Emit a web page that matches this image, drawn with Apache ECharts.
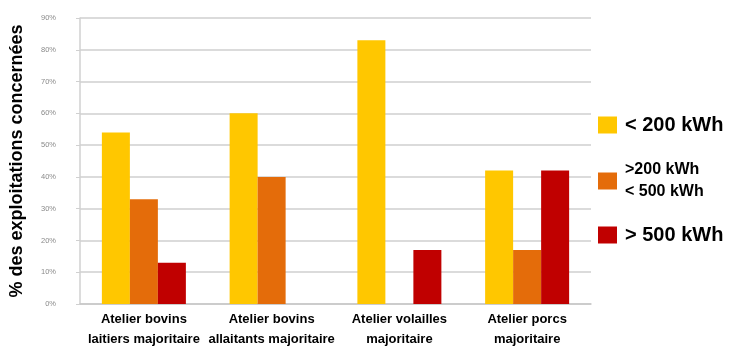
<!DOCTYPE html>
<html>
<head>
<meta charset="utf-8">
<script src="https://cdn.jsdelivr.net/npm/echarts@6/dist/echarts.min.js"></script>
<style>
  html, body { margin: 0; padding: 0; background: #fff; }
  #chart { width: 731px; height: 349px; }
</style>
</head>
<body>
<div id="chart"></div>
<script>
// catégories (ateliers)
var categories = [
  'Atelier bovins\nlaitiers majoritaire',
  'Atelier bovins\nallaitants majoritaire',
  'Atelier volailles\nmajoritaire',
  'Atelier porcs\nmajoritaire'
];
// % des exploitations par tranche de consommation
var lt200 = [54, 60, 83, 42];
var mid200500 = [33, 40, null, 17];
var gt500 = [13, null, 17, 42];

var seriesNames = ['< 200 kWh', '>200 kWh\n< 500 kWh', '> 500 kWh'];
var colors = ['#FFC700', '#E46C0A', '#C00000'];

var chart = echarts.init(document.getElementById('chart'));

function makeLegend(name, top, size, lh) {
  return {
    orient: 'vertical',
    left: 593,
    top: top,
    data: [name],
    itemWidth: 19,
    itemHeight: 17,
    itemGap: 0,
    selectedMode: false,
    icon: 'rect',
    textStyle: {
      fontFamily: 'Liberation Sans',
      fontWeight: 'bold',
      fontSize: size,
      lineHeight: lh,
      color: '#000',
      padding: [0, 0, 0, 3]
    }
  };
}

chart.setOption({
  animation: false,
  color: colors,
  grid: { left: 77, right: 140, top: 18, bottom: 41 },
  legend: [
    makeLegend(seriesNames[0], 110, 20, 20),
    makeLegend(seriesNames[1], 154, 16, 22),
    makeLegend(seriesNames[2], 220, 20, 20)
  ],
  xAxis: {
    type: 'category',
    data: categories,
    axisLine: { lineStyle: { color: '#c8c8c8', width: 1.5 } },
    axisTick: { show: false },
    axisLabel: {
      interval: 0,
      margin: 5,
      fontFamily: 'Liberation Sans',
      fontWeight: 'bold',
      fontSize: 13,
      lineHeight: 20,
      color: '#000'
    }
  },
  yAxis: {
    type: 'value',
    min: 0,
    max: 90,
    interval: 10,
    name: '% des exploitations concernées',
    nameLocation: 'middle',
    nameRotate: 90,
    nameGap: 54,
    nameTextStyle: {
      fontFamily: 'Liberation Sans',
      fontWeight: 'bold',
      fontSize: 18,
      color: '#000'
    },
    axisLine: { show: true, lineStyle: { color: '#d0d0d0', width: 1.5 } },
    axisTick: { show: true, length: 4, lineStyle: { color: '#d0d0d0' } },
    axisLabel: {
      formatter: '{value}%',
      margin: 24,
      fontFamily: 'Liberation Sans',
      fontSize: 7.5,
      color: '#8a8a8a'
    },
    splitLine: { lineStyle: { color: '#cfcfcf', width: 1.5 } }
  },
  series: [
    { name: seriesNames[0], type: 'bar', data: lt200, barWidth: 28, barGap: 0 },
    { name: seriesNames[1], type: 'bar', data: mid200500, barWidth: 28, barGap: 0 },
    { name: seriesNames[2], type: 'bar', data: gt500, barWidth: 28, barGap: 0 }
  ]
});
</script>
</body>
</html>
